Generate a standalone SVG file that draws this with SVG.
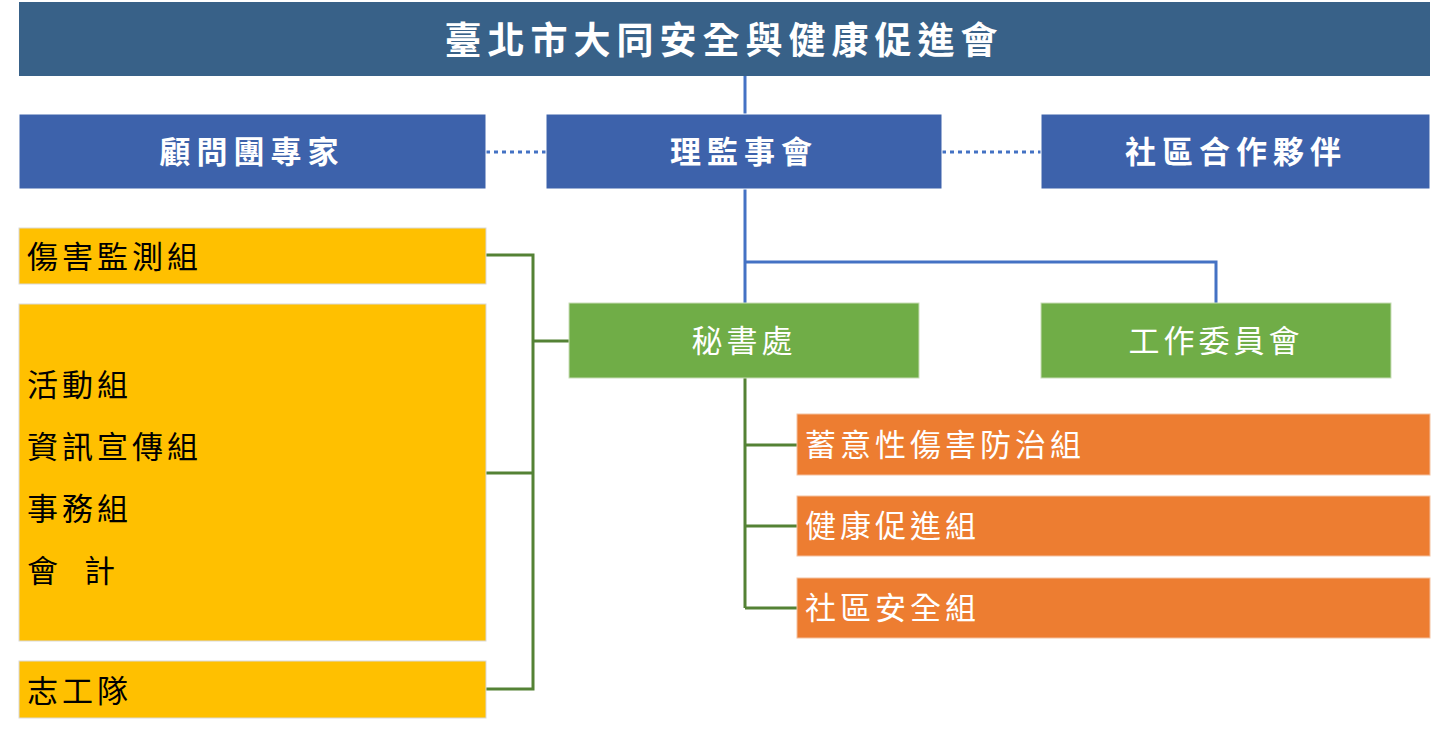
<svg xmlns="http://www.w3.org/2000/svg" width="1434" height="750" viewBox="0 0 1434 750">
<style>
text{font-family:"Noto Sans CJK TC","Noto Sans CJK SC",sans-serif;}
.w{fill:#fff;font-size:31px;letter-spacing:4px;}
.wb{fill:#fff;font-size:31px;font-weight:bold;letter-spacing:6px;}
.k{fill:#000;font-size:31px;letter-spacing:4px;}
.blue{fill:#3d62ab;stroke:#fff;stroke-width:1}
.grn{fill:#70ad47;stroke:#c9ddb8;stroke-width:1}
.org{fill:#ed7d31;stroke:#f4c1a0;stroke-width:1}
.yel{fill:#ffc000;stroke:#d9d9d9;stroke-width:1}
</style>
<rect width="1434" height="750" fill="#fff"/>
<g id="connectors" fill="none">
<path d="M745 76V114M745 189V303M745 262H1216V303" stroke="#4472c4" stroke-width="3"/>
<path d="M486 152H546M942 152H1041" stroke="#4472c4" stroke-width="3" stroke-dasharray="4 4"/>
<path d="M745 378V608M745 445H797M745 526H797M745 608H797" stroke="#548235" stroke-width="3"/>
<path d="M486 255H533V689H486M486 473H533M533 341H569" stroke="#548235" stroke-width="3"/>
</g>
<g id="title"><rect x="19" y="2" width="1411" height="74" fill="#386188"/><text x="724" y="54" text-anchor="middle" class="wb" style="font-size:37px">臺北市大同安全與健康促進會</text></g>
<g id="advisors"><rect class="blue" x="19" y="114" width="467" height="75"/><text x="252" y="163" text-anchor="middle" class="wb">顧問團專家</text></g>
<g id="board"><rect class="blue" x="546" y="114" width="396" height="75"/><text x="744" y="163" text-anchor="middle" class="wb">理監事會</text></g>
<g id="partners"><rect class="blue" x="1041" y="114" width="389" height="75"/><text x="1236" y="163" text-anchor="middle" class="wb">社區合作夥伴</text></g>
<g id="secretariat"><rect class="grn" x="569" y="303" width="350" height="75"/><text x="744" y="352" text-anchor="middle" class="w">秘書處</text></g>
<g id="committee"><rect class="grn" x="1041" y="303" width="350" height="75"/><text x="1216" y="352" text-anchor="middle" class="w">工作委員會</text></g>
<g id="o1"><rect class="org" x="797" y="414" width="633" height="61"/><text x="805" y="456" class="w">蓄意性傷害防治組</text></g>
<g id="o2"><rect class="org" x="797" y="496" width="633" height="60"/><text x="805" y="537" class="w">健康促進組</text></g>
<g id="o3"><rect class="org" x="797" y="578" width="633" height="60"/><text x="805" y="619" class="w">社區安全組</text></g>
<g id="y1"><rect class="yel" x="19" y="228" width="467" height="56"/><text x="27" y="268" class="k">傷害監測組</text></g>
<g id="y2"><rect class="yel" x="19" y="304" width="467" height="337"/>
<text x="27" y="396" class="k">活動組</text><text x="27" y="458" class="k">資訊宣傳組</text><text x="27" y="520" class="k">事務組</text><text x="27" y="582" class="k" xml:space="preserve">會  計</text></g>
<g id="y3"><rect class="yel" x="19" y="661" width="467" height="57"/><text x="27" y="702" class="k">志工隊</text></g>
</svg>
